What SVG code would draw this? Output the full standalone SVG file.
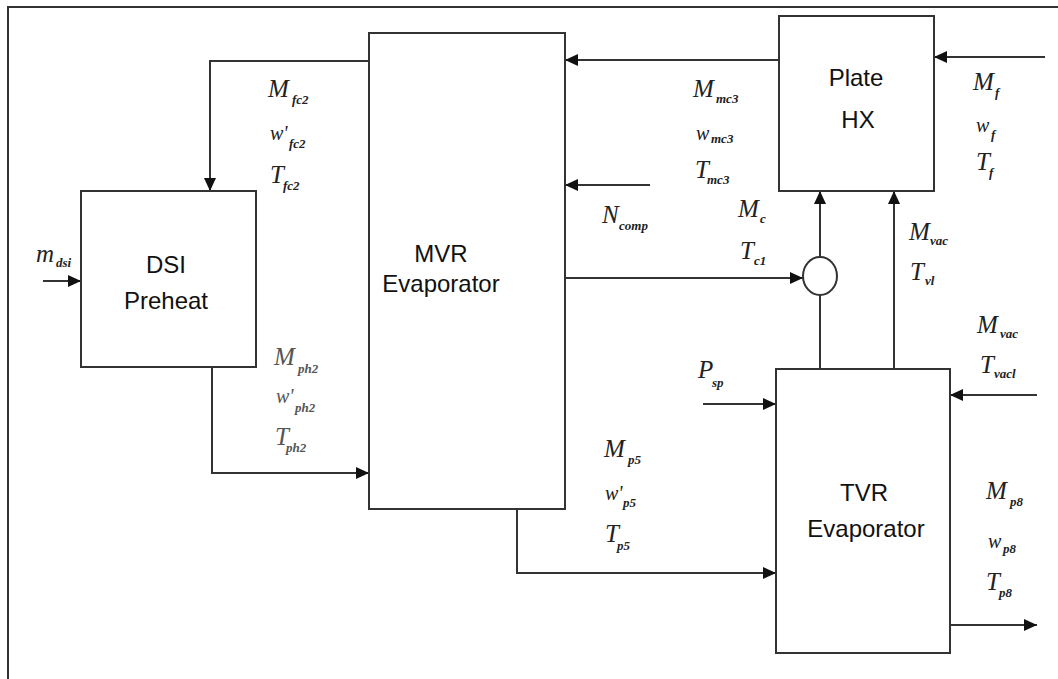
<svg xmlns="http://www.w3.org/2000/svg" width="1058" height="679" viewBox="0 0 1058 679">
<defs>
<marker id="ah" markerUnits="userSpaceOnUse" markerWidth="14" markerHeight="12" refX="13" refY="6" orient="auto">
<path d="M0,0 L13,6 L0,12 z" fill="#111"/>
</marker>
<style>
.box{fill:#fff;stroke:#333;stroke-width:2}
.ln{fill:none;stroke:#333;stroke-width:2}
.arr{fill:none;stroke:#333;stroke-width:2;marker-end:url(#ah)}
.bt{font-family:"Liberation Sans",Arial,sans-serif;font-size:24px;fill:#111;text-anchor:middle}
.v{font-family:"Liberation Serif","Times New Roman",serif;font-style:italic;font-size:25px;fill:#222}
.vs{font-family:"Liberation Serif","Times New Roman",serif;font-style:italic;font-size:20px;fill:#222}
.s{font-family:"Liberation Serif","Times New Roman",serif;font-style:italic;font-weight:bold;font-size:13px;fill:#222}
.g{fill:#555}
</style>
</defs>
<rect width="1058" height="679" fill="#fff"/>
<path class="ln" d="M8,679 L8,7 L1058,7" stroke="#444"/>

<g id="connectors">
<path class="arr" d="M779,60 L565,60"/>
<path class="arr" d="M369,61 L210,61 L210,191"/>
<path class="arr" d="M43,281 L81,281"/>
<path class="arr" d="M212,367 L212,473 L369,473"/>
<path class="arr" d="M650,185 L565,185"/>
<path class="arr" d="M565,278 L803,278"/>
<path class="arr" d="M820,257 L820,191"/>
<path class="ln" d="M820,369 L820,295"/>
<path class="arr" d="M894,369 L894,191"/>
<path class="arr" d="M1045,57 L934,57"/>
<path class="arr" d="M703,404 L776,404"/>
<path class="arr" d="M517,509 L517,573 L776,573"/>
<path class="arr" d="M1037,395 L950,395"/>
<path class="arr" d="M950,625 L1037,625"/>
</g>

<g id="dsi">
<rect class="box" x="81" y="191" width="175" height="176"/>
<text class="bt" x="166" y="273">DSI</text>
<text class="bt" x="166" y="309">Preheat</text>
</g>
<g id="mvr">
<rect class="box" x="369" y="33" width="196" height="476"/>
<text class="bt" x="441" y="262">MVR</text>
<text class="bt" x="441" y="292">Evaporator</text>
</g>
<g id="plate">
<rect class="box" x="779" y="16" width="155" height="175"/>
<text class="bt" x="856" y="86">Plate</text>
<text class="bt" x="858" y="128">HX</text>
</g>
<g id="mixer">
<ellipse cx="820" cy="276" rx="17" ry="19" fill="#fff" stroke="#333" stroke-width="2"/>
</g>
<g id="tvr">
<rect class="box" x="776" y="369" width="174" height="284"/>
<text class="bt" x="864" y="501">TVR</text>
<text class="bt" x="866" y="537">Evaporator</text>
</g>

<g id="labels">
<text class="v" x="268" y="97">M</text><text class="s" x="292" y="104">fc2</text>
<text class="vs" x="270" y="140">w'</text><text class="s" x="289" y="148">fc2</text>
<text class="v" x="270" y="183">T</text><text class="s" x="283" y="190">fc2</text>

<text class="v" x="36" y="262">m</text><text class="s" x="56" y="267">dsi</text>

<text class="v g" x="274" y="365">M</text><text class="s g" x="298" y="373">ph2</text>
<text class="vs g" x="276" y="403">w'</text><text class="s g" x="295" y="412">ph2</text>
<text class="v g" x="275" y="445">T</text><text class="s g" x="286" y="452">ph2</text>

<text class="v" x="693" y="97">M</text><text class="s" x="716" y="103">mc3</text>
<text class="vs" x="696" y="140">w</text><text class="s" x="711" y="143">mc3</text>
<text class="v" x="695" y="178">T</text><text class="s" x="707" y="184">mc3</text>

<text class="v" x="602" y="223">N</text><text class="s" x="619" y="230">comp</text>
<text class="v" x="738" y="217">M</text><text class="s" x="760" y="223">c</text>
<text class="v" x="740" y="259">T</text><text class="s" x="754" y="265">c1</text>

<text class="v" x="973" y="90">M</text><text class="s" x="995" y="97">f</text>
<text class="vs" x="976" y="132">w</text><text class="s" x="991" y="139">f</text>
<text class="v" x="976" y="170">T</text><text class="s" x="989" y="177">f</text>

<text class="v" x="909" y="240">M</text><text class="s" x="930" y="245">vac</text>
<text class="v" x="910" y="280">T</text><text class="s" x="925" y="285">vl</text>

<text class="v" x="977" y="333">M</text><text class="s" x="1000" y="338">vac</text>
<text class="v" x="980" y="373">T</text><text class="s" x="994" y="378">vacl</text>

<text class="v" x="698" y="378">P</text><text class="s" x="712" y="387">sp</text>

<text class="v" x="604" y="457">M</text><text class="s" x="628" y="464">p5</text>
<text class="vs" x="605" y="500">w'</text><text class="s" x="623" y="507">p5</text>
<text class="v" x="605" y="542">T</text><text class="s" x="617" y="550">p5</text>

<text class="v" x="986" y="499">M</text><text class="s" x="1010" y="506">p8</text>
<text class="vs" x="988" y="548">w</text><text class="s" x="1003" y="553">p8</text>
<text class="v" x="986" y="590">T</text><text class="s" x="999" y="597">p8</text>
</g>
</svg>
